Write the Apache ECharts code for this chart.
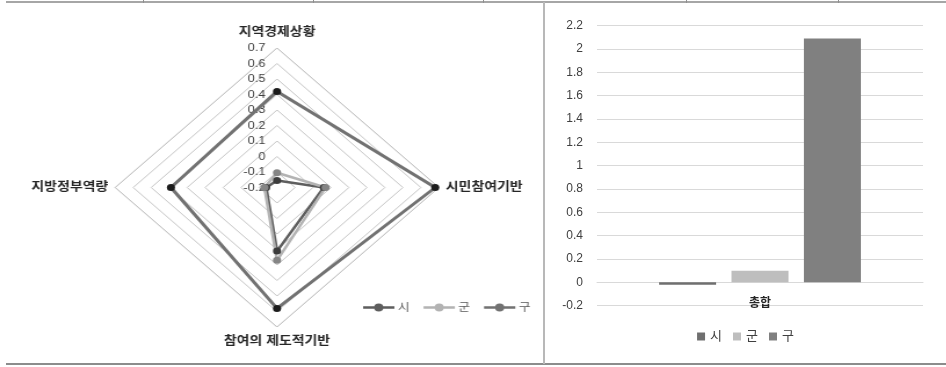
<!doctype html>
<html>
<head>
<meta charset="utf-8">
<title>radar + bar</title>
<script src="https://cdn.jsdelivr.net/npm/echarts@6/dist/echarts.min.js"></script>
<style>
  html, body { margin: 0; padding: 0; background: #fff; }
  .page { position: relative; width: 946px; height: 367px; overflow: hidden; }
  /* table rules around the two charts */
  .hline { position: absolute; height: 2px; background: #a6a6a6; }
  .vline { position: absolute; width: 2px; background: #b8b8b8; }
  .tick { position: absolute; top: 0; width: 1px; height: 3px; background: #909090; }
  #radar {
    position: absolute; left: 0; top: 0; width: 468px; height: 367px;
    transform-origin: 0 0; transform: scaleX(1.16);
  }
  #bar { position: absolute; left: 545px; top: 0; width: 401px; height: 367px; }
</style>
</head>
<body>
<div class="page">
  <div id="radar"></div>
  <div id="bar"></div>
  <div class="hline" style="left:6px;top:1px;width:940px;"></div>
  <div class="hline" style="left:6px;top:363px;width:940px;background:#8c8c8c;"></div>
  <div class="vline" style="left:543px;top:2px;height:362px;"></div>
  <div class="tick" style="left:143px"></div>
  <div class="tick" style="left:313px"></div>
  <div class="tick" style="left:483px"></div>
  <div class="tick" style="left:686px"></div>
  <div class="tick" style="left:838px"></div>
</div>

<script>
// 데이터
var seriesNames = ['시', '군', '구'];
var radarIndicators = ['지역경제상황', '지방정부역량', '참여의 제도적기반', '시민참여기반'];
var radarMin = -0.2;
var radarMax = 0.7;
var siRadar = [-0.155, -0.14, 0.21, 0.06];
var gunRadar = [-0.105, -0.13, 0.27, 0.07];
var guRadar = [0.42, 0.39, 0.58, 0.68];

var barCategories = ['총합'];
var siTotal = [-0.02];
var gunTotal = [0.10];
var guTotal = [2.09];

var font = 'Liberation Sans, Noto Sans CJK KR, sans-serif';

// 범례 아이콘: 선 + 원형 마커
var lineMarkerIcon = 'path://M0,3 L26,3 L26,5.4 L0,5.4 Z M13,0.4 A3.8,3.8 0 1,1 12.99,0.4 Z';

// 레이더 (좌측)
var radarChart = echarts.init(document.getElementById('radar'));
var indicator = radarIndicators.map(function (name, i) {
  var ind = { name: name, min: radarMin, max: radarMax };
  if (i === 0) {
    ind.axisLabel = {
      show: true, color: '#404040', fontSize: 11, fontFamily: font, margin: 10,
      formatter: function (v) { return Math.round(v * 10) / 10; }
    };
  }
  return ind;
});

var radarStyles = [
  { line: '#5e5e5e', dot: '#3c3c3c', width: 2.5 },
  { line: '#b3b3b3', dot: '#858585', width: 2.5 },
  { line: '#727272', dot: '#1c1c1c', width: 3 }
];
var radarValues = [siRadar, gunRadar, guRadar];

radarChart.setOption({
  animation: false,
  textStyle: { fontFamily: font },
  legend: {
    orient: 'horizontal',
    left: 308, top: 297, itemWidth: 27, itemHeight: 8, itemGap: 12,
    icon: lineMarkerIcon,
    textStyle: { color: '#595959', fontSize: 11, fontFamily: font, padding: [0, 0, 0, -2] },
    data: seriesNames.map(function (n, i) {
      return { name: n, itemStyle: { color: radarStyles[i].line } };
    })
  },
  radar: {
    center: [238.8, 187.5],
    radius: 139.5,
    shape: 'polygon',
    splitNumber: 9,
    nameGap: 6,
    axisName: {
      color: '#262626', fontSize: 12, fontWeight: 'bold', fontFamily: font,
      padding: [3, 0, 3, 0]
    },
    axisLine: { show: false },
    axisTick: { show: false },
    axisLabel: { show: false },
    splitLine: { lineStyle: { color: '#c4c4c4', width: 1 } },
    splitArea: { show: false },
    indicator: indicator
  },
  series: [{
    type: 'radar',
    symbol: 'circle',
    symbolSize: 7,
    data: seriesNames.map(function (n, i) {
      return {
        name: n, value: radarValues[i],
        lineStyle: { color: radarStyles[i].line, width: radarStyles[i].width },
        itemStyle: { color: radarStyles[i].dot }
      };
    })
  }]
});

// 막대 (우측)
var barChart = echarts.init(document.getElementById('bar'));
var barColors = ['#6f6f6f', '#bebebe', '#808080'];
var barData = [siTotal, gunTotal, guTotal];

barChart.setOption({
  animation: false,
  textStyle: { fontFamily: font },
  legend: {
    top: 325, left: 'center', icon: 'rect', itemWidth: 8, itemHeight: 8, itemGap: 11,
    textStyle: { color: '#404040', fontSize: 13, fontFamily: font, padding: [0, 0, 0, 0] },
    data: seriesNames
  },
  grid: { left: 52, right: 23, top: 25.7, height: 280, containLabel: false },
  xAxis: {
    type: 'category',
    data: barCategories,
    offset: -23.33,
    axisLine: { onZero: false, lineStyle: { color: '#d9d9d9' } },
    axisTick: { show: false },
    axisLabel: { color: '#262626', fontSize: 12, fontWeight: 'bold', margin: 15 }
  },
  yAxis: {
    type: 'value',
    min: -0.2, max: 2.2, interval: 0.2,
    axisLine: { show: false },
    axisTick: { show: false },
    splitLine: { lineStyle: { color: '#d9d9d9' } },
    axisLabel: {
      color: '#404040', fontSize: 12, margin: 14,
      formatter: function (v) { return Math.round(v * 10) / 10; }
    }
  },
  series: seriesNames.map(function (name, i) {
    return {
      name: name, type: 'bar', data: barData[i],
      barWidth: 57, barGap: '27%',
      itemStyle: { color: barColors[i] }
    };
  })
});
</script>
</body>
</html>
